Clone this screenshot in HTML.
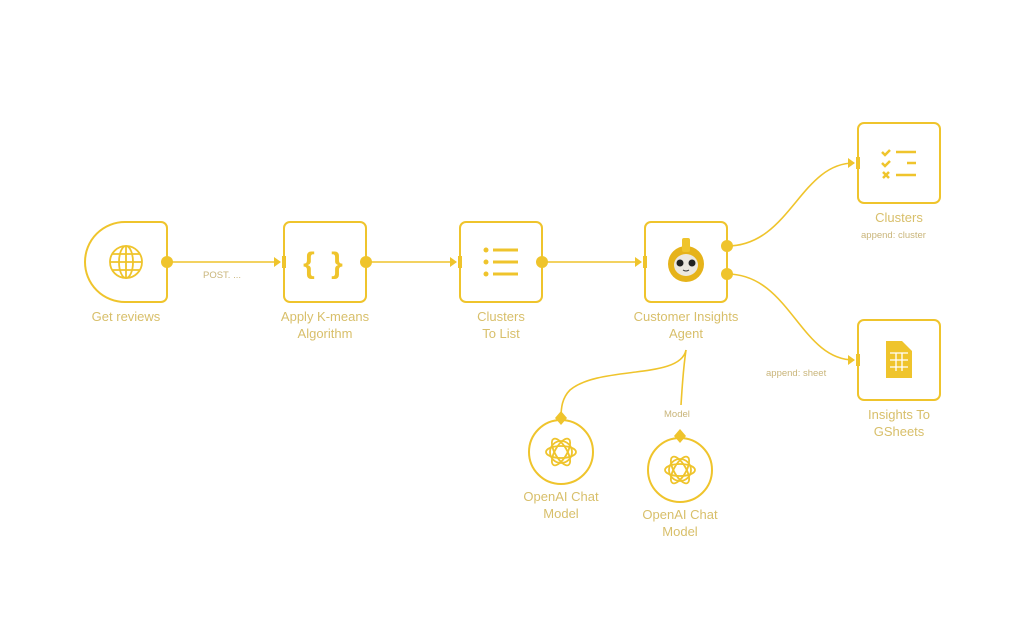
<!DOCTYPE html>
<html><head><style>
body{margin:0;width:1024px;height:640px;background:#fff;overflow:hidden;position:relative;font-family:"Liberation Sans",sans-serif}
.l{position:absolute;color:#d8bf6a;font-size:13px;text-align:center;line-height:17px;width:160px;margin-left:-80px}
.s{position:absolute;color:#c9b57a;font-size:9.5px}
</style></head><body>
<svg width="1024" height="640" style="position:absolute;left:0;top:0" fill="none" stroke="#efc42c" stroke-width="2">
<path d="M125 222 H161 a6 6 0 0 1 6 6 V296 a6 6 0 0 1 -6 6 H125 a40 40 0 0 1 -40 -40 a40 40 0 0 1 40 -40Z"/>
<rect x="284" y="222" width="82" height="80" rx="6"/>
<rect x="460" y="222" width="82" height="80" rx="6"/>
<rect x="645" y="222" width="82" height="80" rx="6"/>
<rect x="858" y="123" width="82" height="80" rx="6"/>
<rect x="858" y="320" width="82" height="80" rx="6"/>
<circle cx="561" cy="452" r="32"/>
<circle cx="680" cy="470" r="32"/>
<path d="M167 262 H280 M366 262 H456 M542 262 H641" stroke-width="1.6"/>
<path d="M727 246 C790 246 800 163 854 163" stroke-width="1.6"/>
<path d="M727 274 C790 274 800 360 854 360" stroke-width="1.6"/>
<path d="M686 350 C680 380 600 365 570 390 C562 398 561 408 561 418" stroke-width="1.6"/>
<path d="M686 350 C683 370 682 390 681 405" stroke-width="1.6"/>
<g fill="#efc42c" stroke="none">
<circle cx="167" cy="262" r="6"/><circle cx="366" cy="262" r="6"/><circle cx="542" cy="262" r="6"/>
<circle cx="727" cy="246" r="6"/><circle cx="727" cy="274" r="6"/>
<path d="M274 257 L281 262 L274 267Z M450 257 L457 262 L450 267Z M635 257 L642 262 L635 267Z M848 158 L855 163 L848 168Z M848 355 L855 360 L848 365Z"/>
<rect x="282" y="256" width="4" height="12"/><rect x="458" y="256" width="4" height="12"/><rect x="643" y="256" width="4" height="12"/><rect x="856" y="157" width="4" height="12"/><rect x="856" y="354" width="4" height="12"/>
<path d="M561 411 L567 418 L561 425 L555 418Z M680 429 L686 436 L680 443 L674 436Z"/>
<path d="M886 341 H902 L912 351 V378 H886Z"/>
</g>
<g stroke-width="1.8"><circle cx="126" cy="262" r="16"/><ellipse cx="126" cy="262" rx="7" ry="16"/><path d="M110 262H142 M112 254H140 M112 270H140 M126 246V278"/></g>
<text x="325" y="273" fill="#efc42c" stroke="none" font-size="30" font-weight="bold" text-anchor="middle" font-family="Liberation Sans" letter-spacing="4">{ }</text>
<g fill="#efc42c" stroke="none"><circle cx="486" cy="250" r="2.5"/><circle cx="486" cy="262" r="2.5"/><circle cx="486" cy="274" r="2.5"/></g>
<path d="M493 250H518 M493 262H518 M493 274H518" stroke-width="3"/>
<path d="M882 152l3 3 5-5 M882 163l3 3 5-5 M883 172l6 6 M889 172l-6 6 M896 152H916 M907 163H916 M896 175H916" stroke-width="2.5"/>
<path d="M890 353H908 M890 360H908 M890 367H908 M896 353V371 M902 353V371" stroke="#fff" stroke-width="1.3"/>
<circle cx="686" cy="264" r="18" fill="#e6b31a" stroke="none"/>
<rect x="682" y="238" width="8" height="14" rx="2" fill="#efc42c" stroke="none"/>
<ellipse cx="686" cy="265" rx="12" ry="11" fill="#ece8df" stroke="none"/>
<circle cx="680" cy="263" r="3.5" fill="#222" stroke="none"/><circle cx="692" cy="263" r="3.5" fill="#222" stroke="none"/>
<path d="M683 270 q3 2 6 0" stroke="#333" stroke-width="1"/>
<g stroke-width="1.8">
<g transform="translate(561,452)"><circle r="11"/><ellipse rx="15" ry="6"/><ellipse rx="15" ry="6" transform="rotate(60)"/><ellipse rx="15" ry="6" transform="rotate(120)"/></g>
<g transform="translate(680,470)"><circle r="11"/><ellipse rx="15" ry="6"/><ellipse rx="15" ry="6" transform="rotate(60)"/><ellipse rx="15" ry="6" transform="rotate(120)"/></g>
</g>
</svg>
<div class="l" style="left:126px;top:308px">Get reviews</div>
<div class="l" style="left:325px;top:308px">Apply K-means<br>Algorithm</div>
<div class="l" style="left:501px;top:308px">Clusters<br>To List</div>
<div class="l" style="left:686px;top:308px">Customer Insights<br>Agent</div>
<div class="l" style="left:899px;top:209px">Clusters</div>
<div class="l" style="left:899px;top:406px">Insights To<br>GSheets</div>
<div class="l" style="left:561px;top:488px">OpenAI Chat<br>Model</div>
<div class="l" style="left:680px;top:506px">OpenAI Chat<br>Model</div>
<div class="s" style="left:203px;top:270px">POST. ...</div>
<div class="s" style="left:861px;top:230px">append: cluster</div>
<div class="s" style="left:766px;top:368px">append: sheet</div>
<div class="s" style="left:664px;top:409px">Model</div>
</body></html>
